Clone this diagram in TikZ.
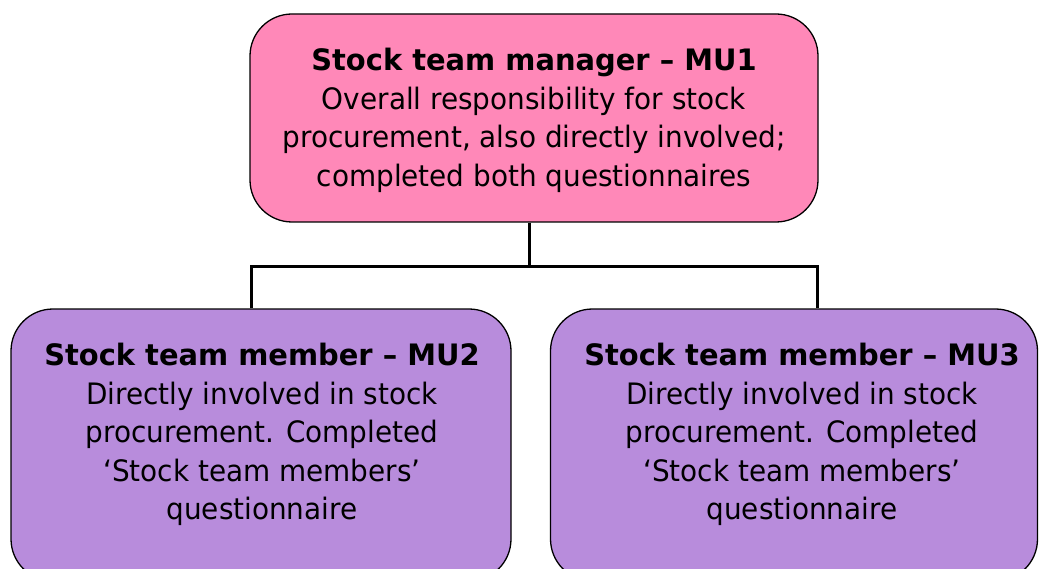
\documentclass[tikz,border=0pt]{standalone}
\usepackage{fontspec}
\setmainfont{DejaVu Sans}[FakeStretch=0.945, BoldFeatures={FakeStretch=0.98}]
\begin{document}
\begin{tikzpicture}[x=1pt,y=-1pt,
  box/.style={draw=black, line width=1.3pt, rounded corners=42pt, inner sep=0pt},
  mgr/.style={box, fill=mgrpink},
  mem/.style={box, fill=mempurple},
  txt/.style={align=center, font=\fontsize{29.5}{38.5}\selectfont, inner sep=0pt, anchor=north},
  link/.style={draw=black, line width=3pt}]
\definecolor{mgrpink}{RGB}{255,136,184}
\definecolor{mempurple}{RGB}{184,140,220}
\useasboundingbox (0,0) rectangle (1041,569);
\clip (0,0) rectangle (1041,569);
\node[mgr, minimum width=568pt, minimum height=208pt] (top) at (534,118) {};
\node[mem, minimum width=500pt, minimum height=272pt] (left) at (261,445) {};
\node[mem, minimum width=487pt, minimum height=272pt] (right) at (794,445) {};
\node[txt] (toptxt) at (534,48) {\textbf{Stock team manager – MU1}\\Overall responsibility for stock\\procurement, also directly involved;\\completed both questionnaires};
\node[txt] (lefttxt) at (262,343) {\textbf{Stock team member – MU2}\\Directly involved in stock\\procurement. Completed\\‘Stock team members’\\questionnaire};
\node[txt] (righttxt) at (802,343) {\textbf{Stock team member – MU3}\\Directly involved in stock\\procurement. Completed\\‘Stock team members’\\questionnaire};
\coordinate (mid) at (529,267);
\draw[link] (top.south -| mid) -- (mid);
\draw[link] (left.north -| 251,0) |- (mid) -| (right.north -| 817,0);
\end{tikzpicture}
\end{document}
